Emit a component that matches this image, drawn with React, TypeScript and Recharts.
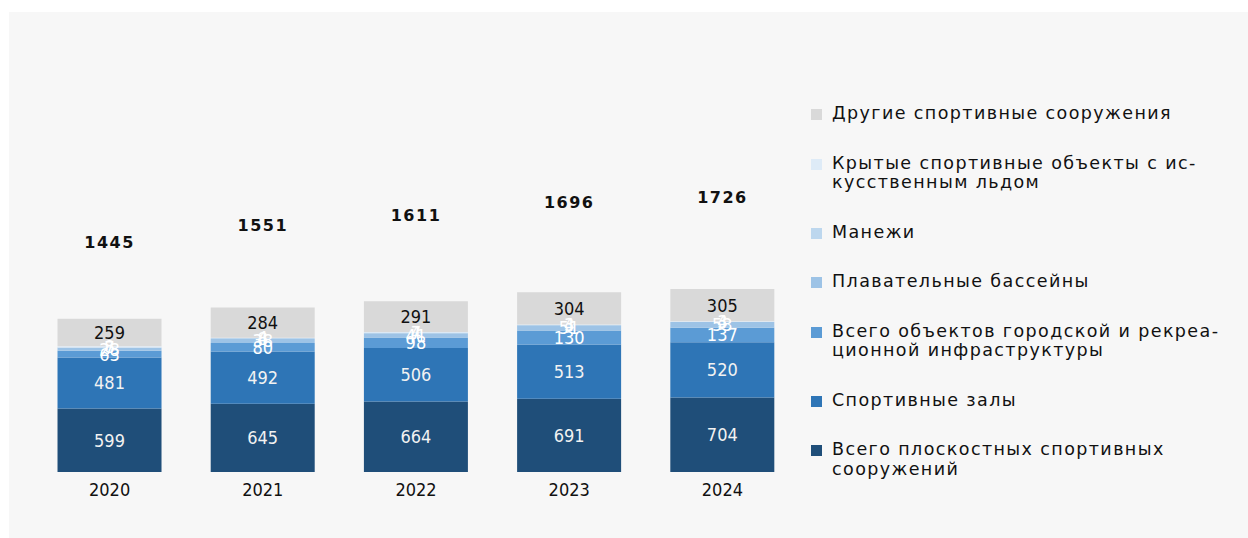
import { ComposedChart, Bar, Line, XAxis, YAxis, LabelList } from 'recharts';

const years = ['2020', '2021', '2022', '2023', '2024'];
const flat = [599, 645, 664, 691, 704];
const halls = [481, 492, 506, 513, 520];
const urban = [63, 80, 98, 130, 137];
const pools = [28, 38, 41, 51, 53];
const manezh = [7, 8, 7, 4, 4];
const ice = [8, 4, 4, 3, 3];
const other = [259, 284, 291, 304, 305];
const totals = [1445, 1551, 1611, 1696, 1726];

// series bottom to top
const SERIES = [
  { key: 'flat', name: 'Всего плоскостных спортивных\nсооружений', color: '#1f4e79', label: '#f2f2f2' },
  { key: 'halls', name: 'Спортивные залы', color: '#2e75b6', label: '#f2f2f2' },
  { key: 'urban', name: 'Всего объектов городской и рекреа-\nционной инфраструктуры', color: '#5b9bd5', label: '#ffffff' },
  { key: 'pools', name: 'Плавательные бассейны', color: '#9dc3e6', label: '#ffffff' },
  { key: 'manezh', name: 'Манежи', color: '#bdd7ee', label: '#ffffff' },
  { key: 'ice', name: 'Крытые спортивные объекты с ис-\nкусственным льдом', color: '#deebf7', label: '#ffffff' },
  { key: 'other', name: 'Другие спортивные сооружения', color: '#d9d9d9', label: '#111111' },
];

const data = years.map((year, i) => ({
  year,
  flat: flat[i],
  halls: halls[i],
  urban: urban[i],
  pools: pools[i],
  manezh: manezh[i],
  ice: ice[i],
  other: other[i],
  total: totals[i],
}));

const FONT = '"DejaVu Sans", Verdana, sans-serif';
const NUM_FONT = '"Liberation Sans Narrow", "DejaVu Sans Condensed", "Liberation Sans", sans-serif';

function LegendBox() {
  const items = [...SERIES].reverse();
  return (
    <div style={{ position: 'absolute', left: 802, top: 92, width: 437, fontFamily: FONT, fontSize: 17.5, letterSpacing: 1.4, color: '#111' }}>
      {items.map(s => (
        <div key={s.key} style={{ display: 'flex', alignItems: 'flex-start', marginBottom: 30 }}>
          <div style={{ width: 11, height: 11, background: s.color, marginTop: 5, marginRight: 10, flexShrink: 0 }} />
          <div style={{ whiteSpace: 'pre-line', lineHeight: '19.5px' }}>{s.name}</div>
        </div>
      ))}
    </div>
  );
}

function TotalLabel(props: any) {
  const { x, y, value } = props;
  return (
    <text x={x} y={y} textAnchor="middle" dominantBaseline="central"
      fontFamily={FONT} fontSize={16} fontWeight="bold" letterSpacing={1.5} fill="#111">
      {value}
    </text>
  );
}

export default function App() {
  return (
    <div style={{ position: 'absolute', left: 9, top: 12, width: 1239, height: 526, background: '#f7f7f7' }}>
      <ComposedChart width={1239} height={526} data={data}
        margin={{ top: 142, right: 449, bottom: 36, left: 24 }} barCategoryGap="16%">
        <XAxis dataKey="year" axisLine={false} tickLine={false}
          tick={{ fontSize: 18, fill: '#111', fontFamily: NUM_FONT }} tickMargin={5} height={30} />
        <YAxis hide domain={[0, 3000]} />
        {SERIES.map(s => (
          <Bar key={s.key} dataKey={s.key} name={s.name} stackId="a" fill={s.color} isAnimationActive={false}>
            <LabelList dataKey={s.key} position="center" fill={s.label} fontSize={18} fontFamily={NUM_FONT} />
          </Bar>
        ))}
        <Line dataKey={(d: any) => d.total * 1.5} stroke="none" dot={false} legendType="none" isAnimationActive={false}>
          <LabelList dataKey="total" content={<TotalLabel />} />
        </Line>
      </ComposedChart>
      <LegendBox />
    </div>
  );
}
